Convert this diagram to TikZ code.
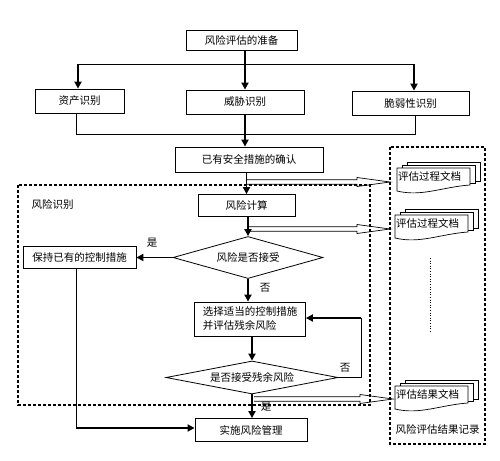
\documentclass[tikz,border=0pt]{standalone}
\usepackage{fontspec}
\setmainfont{Noto Sans CJK SC}
\usetikzlibrary{arrows.meta,shapes.geometric,calc}

\newcommand\docstack[4]{%
  \draw[docline] (#2+10,#3-6) rectangle (#2+83,#3+13);
  \draw[docline] (#2+5,#3-3) rectangle (#2+78,#3+15);
  \draw[docline] (#2,#3) -- (#2+73,#3) -- (#2+73,#3+17) .. controls (#2+45,#3+19) and (#2+25,#3+29) .. (#2,#3+23) -- cycle;
  \node[doctext] (#1) at (#2+1,#3+8) {#4};
}
\newcommand\hollowarrow[2]{%
  \draw[hollow] let \p1=(#1), \p2=(#2) in
    (\x1,\y1+2.2pt) -- (\x2-33pt,\y1+2.2pt) -- (\x2-33pt,\y1+4.5pt) -- (\x2,\y1)
    -- (\x2-33pt,\y1-4.5pt) -- (\x2-33pt,\y1-2.2pt) -- (\x1,\y1-2.2pt);
}

\begin{document}
\begin{tikzpicture}[x=1pt,y=-1pt,
  txt/.style={font=\fontsize{10.5}{14}\selectfont},
  box/.style={draw, line width=0.8pt, inner sep=0pt, txt, align=center},
  dia/.style={draw, line width=0.8pt, shape=diamond, aspect=5, inner sep=0pt, txt},
  thin/.style={line width=0.8pt},
  thickarrow/.style={line width=1.8pt, -{Triangle[length=7pt,width=7pt]}},
  region/.style={line width=1.3pt, dash pattern=on 3pt off 2pt},
  docline/.style={draw, fill=white, line width=0.7pt},
  doctext/.style={anchor=west, inner sep=0pt, txt},
  hollow/.style={line width=0.7pt},
  lbl/.style={inner sep=0pt, txt}]

\useasboundingbox[fill=white] (0,0) rectangle (500,460);

% dashed regions
\draw[region] (18,185) rectangle (370,405);
\draw[region] (390,147) rectangle (485,444);
\node[lbl] (rl) at (52.5,204) {风险识别};
\node[lbl] (rec) at (437.5,429) {风险评估结果记录};

% nodes
\node[box, minimum width=111pt, minimum height=20pt] (prep) at (241.5,40) {风险评估的准备};
\node[box, minimum width=89pt, minimum height=24pt] (asset) at (79.5,101) {资产识别};
\node[box, minimum width=118pt, minimum height=24pt] (threat) at (245,102) {威胁识别};
\node[box, minimum width=117pt, minimum height=24pt] (vuln) at (410.5,103) {脆弱性识别};
\node[box, minimum width=148pt, minimum height=25pt] (exist) at (249,159.5) {已有安全措施的确认};
\node[box, minimum width=97pt, minimum height=22pt] (calc) at (246.5,205.5) {风险计算};
\node[dia, minimum width=150pt, minimum height=42pt] (d1) at (248,257.5) {风险是否接受};
\node[box, minimum width=113pt, minimum height=22pt] (keep) at (79.5,257) {保持已有的控制措施};
\node[box, minimum width=111pt, minimum height=34pt, align=left] (sel) at (250,319) {选择适当的控制措施\\并评估残余风险};
\node[dia, minimum width=172pt, minimum height=33pt] (d2) at (252,377.5) {是否接受残余风险};
\node[box, minimum width=112pt, minimum height=23pt] (impl) at (251,430) {实施风险管理};

% top split
\coordinate (sL) at (78,64);
\coordinate (sR) at (414,64);
\draw[thin] (sL) -- (sR);
\draw[thickarrow] (threat.north |- prep.south) -- (threat.north);
\draw[thickarrow] (sL) -- (sL |- asset.north);
\draw[thickarrow] (sR) -- (sR |- vuln.north);

% join
\coordinate (jL) at (76,134);
\coordinate (jR) at (415,134);
\draw[thin] (jL |- asset.south) -- (jL) -- (jR) -- (jR |- vuln.south);
\draw[thickarrow] (threat.south) -- (threat.south |- exist.north);

% main chain
\draw[thickarrow] (calc.north |- exist.south) -- (calc.north);
\draw[thickarrow] (d1.north |- calc.south) -- (d1.north);
\draw[thickarrow] (d1.south) -- (d1.south |- sel.north);
\draw[thickarrow] (d2.north |- sel.south) -- (d2.north);
\draw[thickarrow] (d2.south) -- (d2.south |- impl.north);
\draw[thickarrow] (d1.west) -- (d1.west -| keep.east);

% keep -> impl
\coordinate (kb) at (76,428);
\draw[thin] (kb |- keep.south) -- (kb);
\draw[thickarrow] (kb) -- (impl.west |- kb);

% loop back
\coordinate (lp) at (361,377.5);
\coordinate (lq) at (361,318);
\draw[thin] (d2.east) -- (lp) -- (lq);
\draw[thickarrow] (lq) -- (sel.east |- lq);

% branch labels
\node[lbl] (y1) at (152,243) {是};
\node[lbl] (n1) at (265,288) {否};
\node[lbl] (n2) at (345,368) {否};
\node[lbl] (y2) at (266,407) {是};

% documents
\docstack{doc1}{397}{168}{评估过程文档}
\docstack{doc2}{395}{215}{评估过程文档}
\docstack{doc3}{395}{386}{评估结果文档}
\draw[line width=0.6pt, dotted] (430,258) -- (430,332);

% hollow arrows
\coordinate (h1) at (247,182);
\coordinate (h2) at (248,229);
\coordinate (h3) at (254,399);
\hollowarrow{h1}{[xshift=-8pt]doc1.west}
\hollowarrow{h2}{[xshift=-6pt]doc2.west}
\hollowarrow{h3}{[xshift=-3pt]doc3.west}

\end{tikzpicture}
\end{document}
